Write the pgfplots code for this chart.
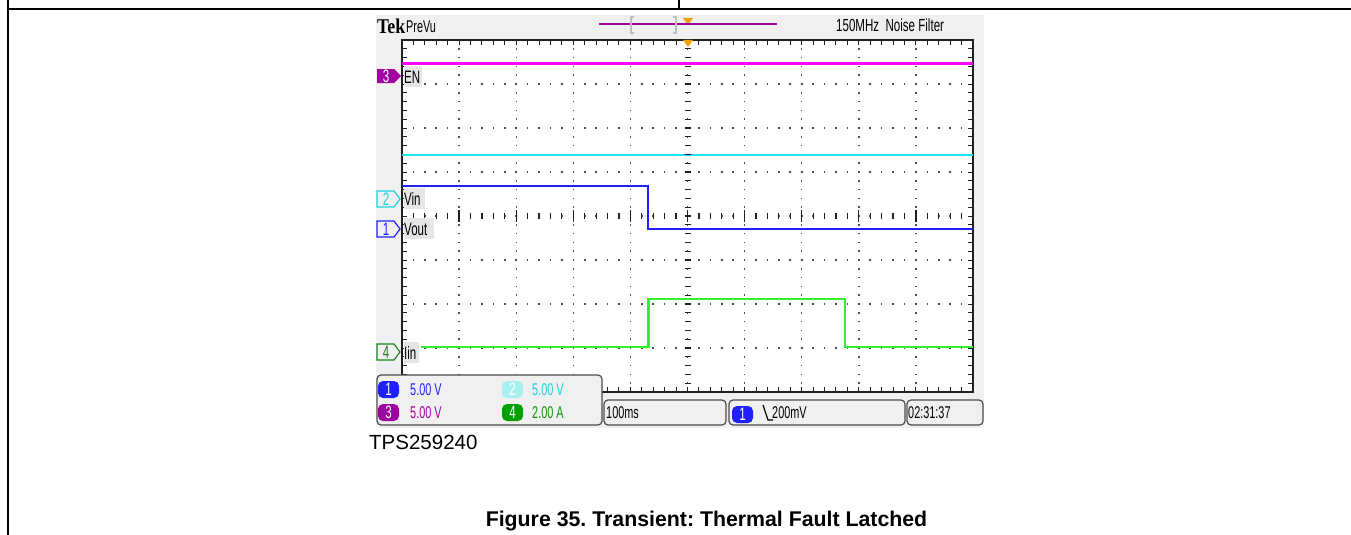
\documentclass[border=0pt]{standalone}
\usepackage{pgfplots}
\pgfplotsset{compat=1.18}
\usepackage{fontspec}
\setmainfont{Liberation Sans}
\newfontfamily\tekfont{Liberation Serif}
\usepackage{graphicx}
\definecolor{scopebg}{HTML}{F0F0F0}
\definecolor{labbg}{HTML}{E6E6E6}
\definecolor{enmag}{HTML}{FF00FF}
\definecolor{chpurp}{HTML}{A000A0}
\definecolor{trcyan}{HTML}{20E0EE}
\definecolor{txcyan}{HTML}{20D0E0}
\definecolor{badgecyan}{HTML}{A8F0F0}
\definecolor{trblue}{HTML}{2020FF}
\definecolor{trgreen}{HTML}{30F030}
\definecolor{chgreen}{HTML}{00A000}
\definecolor{txgreen}{HTML}{109010}
\definecolor{mkgreen}{HTML}{208020}
\definecolor{orng}{HTML}{F0A000}
\definecolor{frame}{HTML}{202020}
\newcommand\nar[1]{\scalebox{0.64}[1]{#1}}
\frenchspacing
\begin{document}
\begin{tikzpicture}[x=1pt,y=-1pt]
\path[use as bounding box] (0,0) rectangle (1351,535);
\fill[white] (0,0) rectangle (1351,535);
% page lines
\draw[line width=1.5pt] (8,9) -- (1351,9);
\draw[line width=1.5pt] (8,0) -- (8,535);
\draw[line width=1.2pt] (679,0) -- (679,9);
% scope background
\fill[scopebg] (376,15) rectangle (984,428);
\begin{axis}[
  at={(402pt,-392pt)}, anchor=south west,
  width=571pt, height=352pt, scale only axis,
  xmin=0, xmax=10, ymin=0, ymax=8,
  xtick={0,...,10}, ytick={0,...,8},
  xticklabels={}, yticklabels={},
  minor x tick num=4, minor y tick num=4,
  tick align=inside, major tick length=5pt, minor tick length=5pt,
  tick style={line width=1pt, color=frame},
  axis line style={line width=1.6pt, color=frame},
  grid=major,
  x grid style={color=frame!80, line width=1.4pt, dash pattern=on 1.6pt off 7.2pt, dash phase=0.8pt},
  y grid style={color=frame!80, line width=1.4pt, dash pattern=on 1.6pt off 9.82pt, dash phase=0.8pt},
  axis background/.style={fill=white},
]
\addplot[color=enmag, line width=3pt] coordinates {(0,7.47) (10,7.47)};
\addplot[color=trcyan, line width=2.5pt] coordinates {(0,5.39) (10,5.39)};
\addplot[color=trblue, line width=2pt] coordinates {(0,4.68) (4.30,4.68) (4.30,3.70) (10,3.70)};
\addplot[color=trgreen, line width=2.4pt] coordinates {(0.33,1.02) (4.32,1.02) (4.32,2.12) (7.76,2.12) (7.76,1.02) (10,1.02)};
\end{axis}
% centre crosshair marks
\foreach \i in {1,...,39} {\draw[frame, line width=1.2pt] (684.5,40+\i*8.8) -- (690.5,40+\i*8.8);}
\foreach \i in {1,...,49} {\draw[frame, line width=1.2pt] (402+\i*11.42,213) -- (402+\i*11.42,219);}
\foreach \i in {1,...,9} {\draw[frame, line width=1.3pt] (402+\i*57.1,210) -- (402+\i*57.1,222);}
% orange trigger markers
\fill[orng] (683,40) -- (693,40) -- (688,47) -- cycle;
\fill[orng] (683,18) -- (693,18) -- (688,25) -- cycle;
% top bar
\draw[chpurp, line width=1.5pt] (599,24) -- (777,24);
\draw[black!25, line width=1.2pt] (634,17) -- (631,17) -- (631,33) -- (634,33);
\draw[black!25, line width=1.2pt] (673,17) -- (676,17) -- (676,33) -- (673,33);
\node[anchor=south west, inner sep=0pt, font=\tekfont\bfseries\fontsize{21}{21}\selectfont] at (377,34) {\scalebox{0.85}[1]{Tek}};
\node[anchor=south west, inner sep=0pt, font=\fontsize{17}{17}\selectfont] at (406,33) {\nar{PreVu}};
\node[anchor=south west, inner sep=0pt, font=\fontsize{17.5}{17.5}\selectfont] at (836,32) {\scalebox{0.66}[1]{150MHz\ \ Noise Filter}};
% channel markers
\fill[chpurp] (377,69) -- (394,69) -- (401,76) -- (394,83) -- (377,83) -- cycle;
\node[white, font=\fontsize{18}{18}\selectfont, inner sep=0pt] at (386,76) {\nar{3}};
\draw[txcyan, line width=1.2pt] (377,191) -- (394,191) -- (400,199) -- (394,207) -- (377,207) -- cycle;
\node[txcyan, font=\fontsize{18}{18}\selectfont, inner sep=0pt] at (386,199) {\nar{2}};
\draw[trblue, line width=1.2pt] (377,221) -- (394,221) -- (400,229) -- (394,237) -- (377,237) -- cycle;
\node[trblue, font=\fontsize{18}{18}\selectfont, inner sep=0pt] at (386,229) {\nar{1}};
\draw[mkgreen, line width=1.2pt] (377,344) -- (394,344) -- (400,352) -- (394,360) -- (377,360) -- cycle;
\node[mkgreen, font=\fontsize{18}{18}\selectfont, inner sep=0pt] at (386,352) {\nar{4}};
% trace labels
\fill[labbg] (404,66) rectangle (422,87);
\node[anchor=west, inner sep=0pt, font=\fontsize{18}{18}\selectfont] at (404,77) {\nar{EN}};
\fill[labbg] (404,188) rectangle (425,209);
\node[anchor=west, inner sep=0pt, font=\fontsize{18}{18}\selectfont] at (404,199) {\nar{Vin}};
\fill[labbg] (404,218) rectangle (434,239);
\node[anchor=west, inner sep=0pt, font=\fontsize{18}{18}\selectfont] at (404,229) {\nar{Vout}};
\fill[labbg] (404,342) rectangle (419,363);
\node[anchor=west, inner sep=0pt, font=\fontsize{18}{18}\selectfont] at (404,353) {\nar{Iin}};
% bottom readout boxes
\draw[fill=scopebg, draw=black!70, line width=1.2pt, rounded corners=4pt] (377,375) rectangle (602,425);
\draw[fill=scopebg, draw=black!70, line width=1.2pt, rounded corners=4pt] (604,400) rectangle (726,425);
\draw[fill=scopebg, draw=black!70, line width=1.2pt, rounded corners=4pt] (729,400) rectangle (905,425);
\draw[fill=scopebg, draw=black!70, line width=1.2pt, rounded corners=4pt] (907,400) rectangle (983,425);
\fill[trblue, rounded corners=5pt] (378,381) rectangle (399,398);
\node[white, font=\fontsize{18}{18}\selectfont, inner sep=0pt] at (388.5,389.5) {\nar{1}};
\node[trblue, anchor=west, inner sep=0pt, font=\fontsize{17}{17}\selectfont] at (410,389.5) {\nar{5.00 V}};
\fill[badgecyan, rounded corners=5pt] (502,381) rectangle (523,398);
\node[white, font=\fontsize{18}{18}\selectfont, inner sep=0pt] at (512.5,389.5) {\nar{2}};
\node[txcyan, anchor=west, inner sep=0pt, font=\fontsize{17}{17}\selectfont] at (532,389.5) {\nar{5.00 V}};
\fill[chpurp, rounded corners=5pt] (378,404) rectangle (399,421);
\node[white, font=\fontsize{18}{18}\selectfont, inner sep=0pt] at (388.5,412.5) {\nar{3}};
\node[chpurp, anchor=west, inner sep=0pt, font=\fontsize{17}{17}\selectfont] at (410,412.5) {\nar{5.00 V}};
\fill[chgreen, rounded corners=5pt] (502,404) rectangle (523,421);
\node[white, font=\fontsize{18}{18}\selectfont, inner sep=0pt] at (512.5,412.5) {\nar{4}};
\node[txgreen, anchor=west, inner sep=0pt, font=\fontsize{17}{17}\selectfont] at (532,412.5) {\nar{2.00 A}};
\node[anchor=west, inner sep=0pt, font=\fontsize{17}{17}\selectfont] at (606,413) {\nar{100ms}};
\fill[trblue, rounded corners=5pt] (732,406) rectangle (753,423);
\node[white, font=\fontsize{18}{18}\selectfont, inner sep=0pt] at (742.5,414.5) {\nar{1}};
\draw[black, line width=1.2pt] (763,405) -- (768,420) -- (773,420);
\node[anchor=west, inner sep=0pt, font=\fontsize{17}{17}\selectfont] at (772,413) {\nar{200mV}};
\node[anchor=west, inner sep=0pt, font=\fontsize{17}{17}\selectfont] at (908,413) {\nar{02:31:37}};
% captions
\node[anchor=west, inner sep=0pt, font=\fontsize{20.5}{24}\selectfont] at (369,442) {TPS259240};
\node[inner sep=0pt, font=\bfseries\fontsize{21.3}{24}\selectfont] at (706.5,521) {Figure 35. Transient: Thermal Fault Latched};
\end{tikzpicture}
\end{document}
